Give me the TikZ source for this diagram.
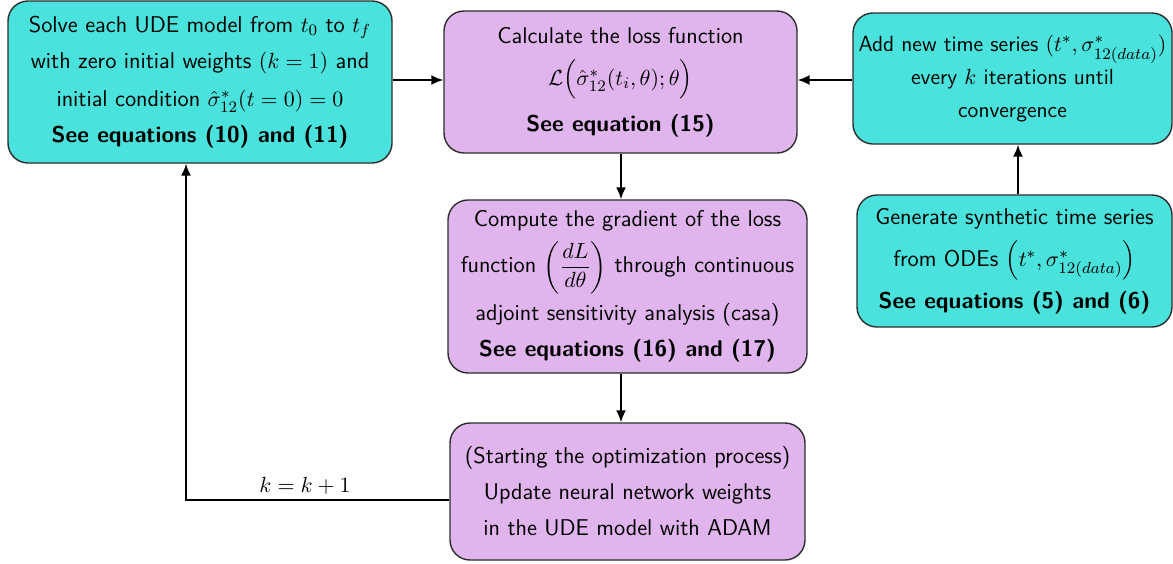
\documentclass[tikz,border=0pt]{standalone}
\usepackage{amsmath}
\usetikzlibrary{arrows.meta}
\definecolor{boxcyan}{RGB}{74,226,220}
\definecolor{boxviolet}{RGB}{224,180,236}
\definecolor{edgegray}{RGB}{45,45,45}
\begin{document}
\begin{tikzpicture}[x=0.5pt,y=-0.5pt,
  box/.style={draw=edgegray,line width=0.7pt,rounded corners=10pt,align=center,
    font=\sffamily\fontsize{11.4}{18}\selectfont,inner sep=0pt},
  cyanbox/.style={box,fill=boxcyan},
  violetbox/.style={box,fill=boxviolet},
  arr/.style={-{Latex[length=6pt,width=5pt]},line width=0.9pt,black}]
\useasboundingbox (0,0) rectangle (1173,563);
\node[cyanbox,minimum width=192pt,minimum height=81pt] (solve) at (200,82)
  {Solve each UDE model from $t_0$ to $t_f$\\
   with zero initial weights $(k=1)$ and\\[1pt]
   initial condition $\hat{\sigma}^*_{12}(t=0)=0$\\
   \textbf{See equations (10) and (11)}};
\node[violetbox,minimum width=176.5pt,minimum height=71pt] (loss) at (620.5,82)
  {Calculate the loss function\\[3pt]
   $\mathcal{L}\Big(\hat{\sigma}^*_{12}(t_i,\theta);\theta\Big)$\\[5pt]
   \textbf{See equation (15)}};
\node[cyanbox,minimum width=159.5pt,minimum height=65.5pt,
  font=\sffamily\fontsize{11}{16.5}\selectfont] (add) at (1012.5,78.5)
  {Add new time series $(t^*,\sigma^*_{12(data)})$\\
   every $k$ iterations until\\
   convergence};
\node[violetbox,minimum width=179.5pt,minimum height=86.5pt] (grad) at (627.5,286.5)
  {Compute the gradient of the loss\\[4pt]
   function $\left(\dfrac{dL}{d\theta}\right)$ through continuous\\[4pt]
   adjoint sensitivity analysis (casa)\\
   \textbf{See equations (16) and (17)}};
\node[cyanbox,minimum width=157.5pt,minimum height=66pt] (gen) at (1014.5,261)
  {Generate synthetic time series\\[3pt]
   from ODEs $\Big(t^*,\sigma^*_{12(data)}\Big)$\\[3pt]
   \textbf{See equations (5) and (6)}};
\node[violetbox,minimum width=177.5pt,minimum height=68.5pt] (update) at (627.5,491.5)
  {(Starting the optimization process)\\
   Update neural network weights\\
   in the UDE model with ADAM};
\coordinate (corner) at (186,500);
\draw[arr] (solve.east |- 0,80) -- (loss.west |- 0,80);
\draw[arr] (add.west |- 0,80) -- (loss.east |- 0,80);
\draw[arr] (gen.north -| 1018,0) -- (add.south -| 1018,0);
\draw[arr] (loss.south -| 621,0) -- (grad.north -| 621,0);
\draw[arr] (grad.south -| 621,0) -- (update.north -| 621,0);
\draw[arr] (update.west |- corner) -- (corner) -- (solve.south -| corner);
\node[font=\fontsize{11.4}{14}\selectfont,anchor=south] (klabel) at (305,501) {$k=k+1$};
\end{tikzpicture}
\end{document}
